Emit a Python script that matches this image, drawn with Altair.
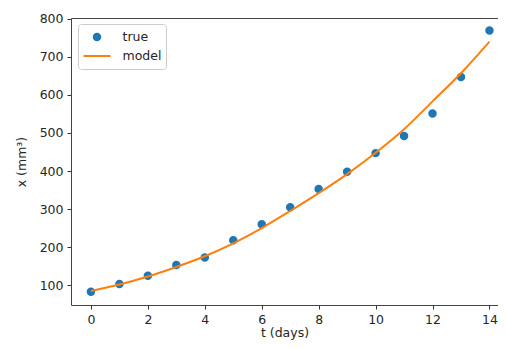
import altair as alt
import pandas as pd

t_days = list(range(15))
true_vals = [83, 103, 125, 153, 173, 218, 260, 305, 353, 398, 447, 492, 551, 647, 769]
model_vals = [85, 102, 123, 148, 176, 210, 250, 295, 342, 392, 448, 510, 583, 657, 740]
series = ["true", "model"]
x_ticks = [0, 2, 4, 6, 8, 10, 12, 14]
y_ticks = [100, 200, 300, 400, 500, 600, 700, 800]

df_true = pd.DataFrame({"t": t_days, "x": true_vals, "series": "true"})
df_model = pd.DataFrame({"t": t_days, "x": model_vals, "series": "model"})

FONT = "DejaVu Sans"
TXT = "#262626"
SPINE = "#444444"

color_scale = alt.Scale(domain=series, range=["#1f77b4", "#ff7f0e"])
shape_scale = alt.Scale(domain=series, range=["circle", "stroke"])
size_scale = alt.Scale(domain=series, range=[42, 729])

legend = alt.Legend(
    title=None, orient="none", legendX=7, legendY=6,
    padding=4.5, strokeColor="#cccccc", cornerRadius=3, fillColor="white",
    clipHeight=17, rowPadding=2, labelOffset=11, symbolStrokeWidth=2,
    symbolOpacity=1,
    labelFont=FONT, labelFontSize=12.5, labelColor=TXT,
)

x_scale = alt.Scale(domain=[-0.7, 14.3], nice=False, zero=False)
y_enc = alt.Y("x:Q", scale=alt.Scale(domain=[48, 802], nice=False, zero=False),
              axis=alt.Axis(values=y_ticks, title="x (mm³)", titlePadding=11))

points = alt.Chart(df_true).mark_point(filled=True, opacity=1, strokeWidth=2).encode(
    x=alt.X("t:Q", scale=x_scale,
            axis=alt.Axis(values=x_ticks, title="t (days)", titlePadding=1)),
    y=y_enc,
    color=alt.Color("series:N", scale=color_scale, legend=legend),
    stroke=alt.Stroke("series:N", scale=color_scale, legend=legend),
    shape=alt.Shape("series:N", scale=shape_scale, legend=legend),
    size=alt.Size("series:N", scale=size_scale, legend=legend),
)

line = alt.Chart(df_model).mark_line(strokeWidth=2, interpolate="monotone").encode(
    x=alt.X("t:Q", scale=x_scale,
            axis=alt.Axis(orient="top", labels=False, ticks=False, title=None)),
    y=y_enc,
    color=alt.Color("series:N", scale=color_scale, legend=legend),
)

chart = alt.layer(points, line).resolve_axis(x="independent").properties(
    width=427, height=287,
    padding={"left": 63, "top": 10, "right": 0, "bottom": 36},
    autosize="none",
).configure_view(stroke="transparent").configure_axis(
    domain=True, domainColor=SPINE, domainWidth=1,
    grid=False, ticks=True, tickColor="#333333", tickSize=4, tickWidth=1,
    labelFont=FONT, labelFontSize=12.5, labelColor=TXT, labelPadding=4,
    titleFont=FONT, titleFontSize=12.5, titleFontWeight="normal", titleColor=TXT,
)

chart.save("out.html", embed_options={"renderer": "svg", "actions": False})
